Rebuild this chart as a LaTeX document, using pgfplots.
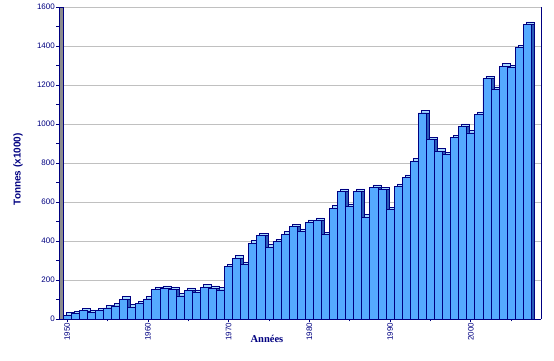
\documentclass[border=0pt]{standalone}
\usepackage{fontspec}
\setmainfont{Liberation Sans}
\newfontfamily\serifb{Liberation Serif}
\usepackage{pgfplots}
\usepackage{pgfplotstable}
\pgfplotsset{compat=1.18}
\definecolor{axnavy}{HTML}{000080}
\definecolor{barfront}{HTML}{55AAFF}
\definecolor{bartop}{HTML}{A6DAFF}
\definecolor{barside}{HTML}{2A5CB8}
\definecolor{gridgray}{HTML}{C0C0C0}
\definecolor{wallgray}{HTML}{8C8C8C}

\pgfplotstableread{
year v
1950 20
1951 29
1952 42
1953 34
1954 42
1955 57
1956 67
1957 102
1958 60
1959 78
1960 103
1961 152
1962 157
1963 152
1964 118
1965 146
1966 136
1967 163
1968 157
1969 149
1970 269
1971 312
1972 280
1973 389
1974 428
1975 368
1976 397
1977 435
1978 474
1979 449
1980 495
1981 505
1982 432
1983 569
1984 654
1985 577
1986 654
1987 523
1988 675
1989 663
1990 560
1991 680
1992 726
1993 809
1994 1057
1995 920
1996 860
1997 843
1998 929
1999 988
2000 954
2001 1049
2002 1232
2003 1177
2004 1297
2005 1288
2006 1391
2007 1511
}\data

\begin{document}
\begin{tikzpicture}
\useasboundingbox (-59pt,-42pt) rectangle (495pt,319pt);
\begin{axis}[
  scale only axis, width=482pt, height=312pt,
  xmin=1949, xmax=2008.7, ymin=0, ymax=1600,
  ybar, bar width=1,
  clip=false,
  axis x line*=bottom, axis y line*=box,
  ytick={0,200,...,1600}, minor y tick num=1, ytick pos=left,
  xtick={1950,1960,...,2000}, minor xtick={1955,1965,...,2005},
  tick align=outside,
  major tick length=3pt, minor tick length=2.5pt,
  ymajorgrids, major grid style={gridgray, line width=0.8pt},
  axis line style={axnavy, line width=0.8pt},
  tick style={axnavy, line width=0.6pt},
  /pgf/number format/1000 sep={},
  /pgf/number format/assume math mode=true,
  ticklabel style={font=\fontsize{8}{9}\selectfont, text=axnavy},
  xticklabel style={rotate=90, anchor=east, inner sep=0.5pt},
  yticklabel style={inner sep=1pt},
  xlabel={Années}, ylabel={Tonnes (x1000)},
  every axis x label/.style={at={(axis description cs:0.4315,0)}, anchor=center, yshift=-20pt,
     font=\serifb\bfseries\fontsize{10.5}{12}\selectfont, text=axnavy},
  every axis y label/.style={at={(axis description cs:-0.085,0.48)}, anchor=center, rotate=90,
     font=\bfseries\fontsize{10}{12}\selectfont, text=axnavy},
]
\addplot[fill=bartop, draw=axnavy, line width=0.6pt, bar shift=0.37] table[x=year, y expr=\thisrow{v}+13] {\data};
\addplot[fill=barside, draw=axnavy, line width=0.6pt, bar shift=0.37] table[x=year, y=v] {\data};
\addplot[fill=barfront, draw=axnavy, line width=0.7pt, bar shift=0] table[x=year, y=v] {\data};
\filldraw[fill=wallgray, draw=axnavy, line width=0.7pt] (axis cs:1949,0) rectangle (axis cs:1949.5,1600);
\end{axis}
\end{tikzpicture}
\end{document}
